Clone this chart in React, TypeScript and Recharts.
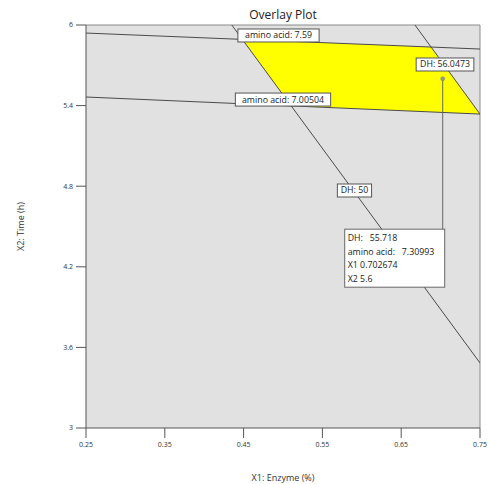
import React from 'react';
import {
  ComposedChart, XAxis, YAxis, Line, Area, Scatter, CartesianGrid, ReferenceLine,
} from 'recharts';

// ---- data ----
const xTicks = [0.25, 0.35, 0.45, 0.55, 0.65, 0.75];
const yTicks = [3, 3.6, 4.2, 4.8, 5.4, 6];

const dh50Line = [{ x: 0.435, y: 6 }, { x: 0.75, y: 3.484 }];
const dh56Line = [{ x: 0.6675, y: 6 }, { x: 0.75, y: 5.337 }];
const amino759Line = [{ x: 0.25, y: 5.94 }, { x: 0.75, y: 5.821 }];
const amino700Line = [{ x: 0.25, y: 5.464 }, { x: 0.75, y: 5.337 }];

const overlayRegion = [
  { x: 0.4484, range: [5.893, 5.893] },
  { x: 0.5103, range: [5.398, 5.878] },
  { x: 0.688, range: [5.353, 5.836] },
  { x: 0.75, range: [5.337, 5.337] },
];

const contourLabels = [
  { x: 0.4943, y: 5.922, label: 'amino acid: 7.59' },
  { x: 0.5, y: 5.445, label: 'amino acid: 7.00504' },
  { x: 0.7056, y: 5.706, label: 'DH: 56.0473' },
  { x: 0.5907, y: 4.768, label: 'DH: 50' },
];

const flagPoint = [{ x: 0.702674, y: 5.6 }];
const flagBoxAnchor = [{ x: 0.702674, y: 4.48 }];
const flagConnector = [{ x: 0.702674, y: 5.6 }, { x: 0.702674, y: 4.48 }];
const readoutNames = ['DH:', 'amino acid:', 'X1', 'X2'];
const readoutValues = ['55.718', '7.30993', '0.702674', '5.6'];

const FONT = '"Open Sans", "Noto Sans", sans-serif';
const LINE = '#4a4a4a';
const TEXT = '#222222';

const LabelBox = (props: any) => {
  const { cx, cy, payload } = props;
  const text: string = payload.label;
  const w = text.length * 4.7 + 6;
  const h = 13;
  return (
    <g>
      <rect x={cx - w / 2} y={cy - h / 2} width={w} height={h} fill="#fff" stroke="#555" strokeWidth={1} />
      <text x={cx} y={cy + 3} textAnchor="middle" fontSize={8.8} fontFamily={FONT} fill={TEXT}>
        {text}
      </text>
    </g>
  );
};

const FlagBox = (props: any) => {
  const { cx, cy } = props;
  const w = 100;
  const h = 58;
  const left = cx + 2 - w;
  return (
    <g>
      <rect x={left} y={cy} width={w} height={h} fill="#fff" stroke="#666" strokeWidth={1} />
      {readoutNames.map((n, i) => (
        <text key={n} x={left + 3} y={cy + 12 + i * 13.5} fontSize={8.8} fontFamily={FONT} fill={TEXT} style={{ whiteSpace: 'pre' }}>
          {n + (i < 2 ? '   ' : ' ') + readoutValues[i]}
        </text>
      ))}
    </g>
  );
};

const FlagDot = (props: any) => (
  <circle cx={props.cx} cy={props.cy} r={2} fill="#999" stroke="#777" strokeWidth={0.5} />
);

const YLabel = (props: any) => {
  const vb = props.viewBox;
  const x = vb.x + 22;
  const y = vb.y + vb.height / 2;
  return (
    <text x={x} y={y} transform={`rotate(-90, ${x}, ${y})`} textAnchor="middle" dominantBaseline="middle" fontSize={9} fontFamily={FONT} fill="#333">
      X2: Time (h)
    </text>
  );
};

export default function App() {
  return (
    <div style={{ position: 'absolute', left: 0, top: 0, width: 489, height: 484, background: '#fff', overflow: 'hidden' }}>
      <div style={{ position: 'absolute', left: 86, width: 394, top: 6, textAlign: 'center', fontSize: 12, lineHeight: '18px', fontFamily: FONT, color: TEXT }}>
        Overlay Plot
      </div>
      <ComposedChart width={489} height={484} data={overlayRegion} margin={{ top: 25, right: 9, bottom: 0, left: 0 }}>
        <CartesianGrid horizontal={false} vertical={false} fill="#e1e1e1" />
        <XAxis
          dataKey="x"
          type="number"
          domain={[0.25, 0.75]}
          ticks={xTicks}
          allowDataOverflow
          height={56}
          tickSize={10}
          tickMargin={4}
          stroke="#555"
          tickFormatter={(v: number) => v.toFixed(2)}
          tick={{ fontSize: 7, fill: '#333', fontFamily: FONT }}
          label={{ value: 'X1: Enzyme (%)', position: 'insideBottom', offset: 3, fontSize: 9, fill: '#333', fontFamily: FONT }}
        />
        <YAxis
          type="number"
          domain={[3, 6]}
          ticks={yTicks}
          allowDataOverflow
          width={86}
          tickSize={10}
          tickMargin={3}
          stroke="#555"
          tick={{ fontSize: 7, fill: '#333', fontFamily: FONT }}
          label={<YLabel />}
        />
        <ReferenceLine y={6} stroke="#8a8a8a" />
        <ReferenceLine x={0.75} stroke="#8a8a8a" />
        <Area dataKey="range" type="linear" fill="#ffff00" fillOpacity={1} stroke="none" isAnimationActive={false} />
        <Line data={dh50Line} dataKey="y" type="linear" dot={false} stroke={LINE} strokeWidth={1} isAnimationActive={false} />
        <Line data={dh56Line} dataKey="y" type="linear" dot={false} stroke={LINE} strokeWidth={1} isAnimationActive={false} />
        <Line data={amino759Line} dataKey="y" type="linear" dot={false} stroke={LINE} strokeWidth={1} isAnimationActive={false} />
        <Line data={amino700Line} dataKey="y" type="linear" dot={false} stroke={LINE} strokeWidth={1} isAnimationActive={false} />
        <Line data={flagConnector} dataKey="y" type="linear" dot={false} stroke="#666" strokeWidth={1} isAnimationActive={false} />
        <Scatter data={flagPoint} dataKey="y" shape={FlagDot} isAnimationActive={false} />
        <Scatter data={contourLabels} dataKey="y" shape={LabelBox} isAnimationActive={false} />
        <Scatter data={flagBoxAnchor} dataKey="y" shape={FlagBox} isAnimationActive={false} />
      </ComposedChart>
    </div>
  );
}
